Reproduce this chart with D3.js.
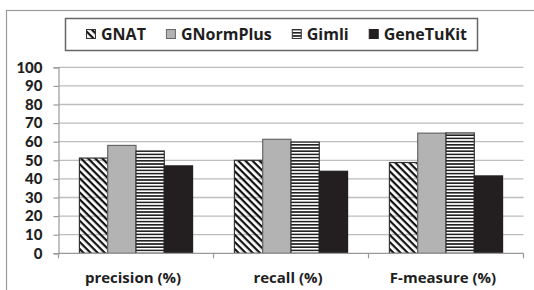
<!DOCTYPE html>
<html>
<head>
<meta charset="utf-8">
<style>
  body { margin: 0; background: #fff; }
  text { font-family: "Open Sans", Lato, sans-serif; font-weight: bold; fill: #1e1e1e; }
</style>
</head>
<body>
<script src="https://d3js.org/d3.v7.min.js"></script>
<script>
var categories = ["precision (%)", "recall (%)", "F-measure (%)"];
var series = ["GNAT", "GNormPlus", "Gimli", "GeneTuKit"];
var GNAT = [51.2, 50.0, 48.8];
var GNormPlus = [58.0, 61.3, 64.6];
var Gimli = [55.0, 59.8, 64.7];
var GeneTuKit = [47.0, 44.1, 41.6];
var yTicks = [0, 10, 20, 30, 40, 50, 60, 70, 80, 90, 100];

var values = { GNAT: GNAT, GNormPlus: GNormPlus, Gimli: Gimli, GeneTuKit: GeneTuKit };

var width = 534, height = 290;
var margin = { left: 58.5, right: 10.5, top: 67.3, bottom: 36.7 };

var svg = d3.select("body").append("svg")
    .attr("width", width)
    .attr("height", height);

var defs = svg.append("defs");

// diagonal hatch "\\\" on transparent background
var diag = defs.append("pattern")
    .attr("id", "diag")
    .attr("patternUnits", "userSpaceOnUse")
    .attr("width", 5).attr("height", 5)
    .attr("patternTransform", "rotate(45)");
diag.append("rect").attr("x", 0).attr("y", 0).attr("width", 5).attr("height", 2.2).attr("fill", "#111");

// horizontal stripes
var horiz = defs.append("pattern")
    .attr("id", "horiz")
    .attr("patternUnits", "userSpaceOnUse")
    .attr("width", 4).attr("height", 3.2);
horiz.append("rect").attr("width", 4).attr("height", 3.2).attr("fill", "#fff");
horiz.append("rect").attr("y", 0).attr("width", 4).attr("height", 1.6).attr("fill", "#222");

var fills = { GNAT: "url(#diag)", GNormPlus: "#b3b3b3", Gimli: "url(#horiz)", GeneTuKit: "#231f20" };
var strokes = { GNAT: "#333", GNormPlus: "#666", Gimli: "#333", GeneTuKit: "#231f20" };

// outer frame
svg.append("rect")
    .attr("x", 6.5).attr("y", 10.5)
    .attr("width", width + 10).attr("height", height + 10)
    .attr("fill", "none").attr("stroke", "#999").attr("stroke-width", 1.2);

var x0 = d3.scaleBand()
    .domain(categories)
    .range([margin.left, width - margin.right]);

var x1 = d3.scaleBand()
    .domain(series)
    .range([x0.bandwidth() * 0.135, x0.bandwidth() * 0.865]);

var y = d3.scaleLinear()
    .domain([0, 100])
    .range([height - margin.bottom, margin.top]);

// gridlines
svg.append("g")
    .selectAll("line")
    .data(yTicks.slice(1))
    .join("line")
    .attr("x1", margin.left).attr("x2", width - margin.right)
    .attr("y1", function(d) { return y(d); })
    .attr("y2", function(d) { return y(d); })
    .attr("stroke", "#bdbdbd").attr("stroke-width", 1.3);

// bars
var groups = svg.append("g")
    .selectAll("g")
    .data(categories)
    .join("g")
    .attr("transform", function(d) { return "translate(" + x0(d) + ",0)"; });

groups.selectAll("rect")
    .data(function(c, i) { return series.map(function(s) { return { s: s, v: values[s][i] }; }); })
    .join("rect")
    .attr("x", function(d) { return x1(d.s); })
    .attr("y", function(d) { return y(d.v); })
    .attr("width", x1.bandwidth())
    .attr("height", function(d) { return y(0) - y(d.v); })
    .attr("fill", function(d) { return fills[d.s]; })
    .attr("stroke", function(d) { return strokes[d.s]; })
    .attr("stroke-width", 1.2);

// y axis
var yAxis = svg.append("g")
    .attr("transform", "translate(" + margin.left + ",0)")
    .call(d3.axisLeft(y).tickValues(yTicks).tickSize(5).tickPadding(11));
yAxis.select(".domain").attr("stroke", "#999").attr("stroke-width", 1.2);
yAxis.selectAll(".tick line").attr("stroke", "#999").attr("stroke-width", 1.2);
yAxis.selectAll("text")
    .style("font-size", "15px").style("font-family", "Lato, sans-serif")
    .style("font-weight", "900").attr("fill", "#1e1e1e");

// x axis
var xg = svg.append("g")
    .attr("transform", "translate(0," + y(0) + ")");
xg.append("line")
    .attr("x1", margin.left).attr("x2", width - margin.right)
    .attr("stroke", "#999").attr("stroke-width", 1.2);
xg.selectAll(".sep")
    .data(categories.concat(["end"]))
    .join("line")
    .attr("x1", function(d, i) { return margin.left + i * x0.bandwidth(); })
    .attr("x2", function(d, i) { return margin.left + i * x0.bandwidth(); })
    .attr("y1", 0).attr("y2", 5)
    .attr("stroke", "#999").attr("stroke-width", 1.2);
xg.selectAll("text")
    .data(categories)
    .join("text")
    .attr("x", function(d) { return x0(d) + x0.bandwidth() / 2 - 3; })
    .attr("y", 30)
    .attr("text-anchor", "middle")
    .style("font-size", "15px")
    .text(function(d) { return d; });

// legend
var legend = svg.append("g");
legend.append("rect")
    .attr("x", 65.5).attr("y", 18.5)
    .attr("width", 412).attr("height", 32)
    .attr("fill", "#fff").attr("stroke", "#666").attr("stroke-width", 1.5);

var lx = 86;
series.forEach(function(s) {
    legend.append("rect")
        .attr("x", lx + 0.5).attr("y", 29.5)
        .attr("width", 9).attr("height", 9)
        .attr("fill", fills[s]).attr("stroke", strokes[s]).attr("stroke-width", 1);
    var t = legend.append("text")
        .attr("x", lx + 15).attr("y", 39.5)
        .style("font-size", "16px")
        .text(s);
    lx = lx + 15 + t.node().getComputedTextLength() + 20;
});
</script>
</body>
</html>
